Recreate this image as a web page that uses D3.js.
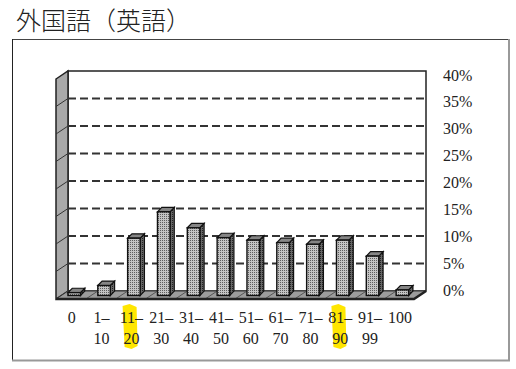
<!DOCTYPE html>
<html><head><meta charset="utf-8">
<script src="https://cdn.jsdelivr.net/npm/d3@7"></script>
<style>
html,body{margin:0;padding:0;background:#fff;}
svg{display:block;}
</style></head>
<body>
<script>
const title = "外国語（英語）";
const categories = ["0","1–10","11–20","21–30","31–40","41–50","51–60","61–70","71–80","81–90","91–99","100"];
const labelLine1 = ["0","1–","11–","21–","31–","41–","51–","61–","71–","81–","91–","100"];
const labelLine2 = ["","10","20","30","40","50","60","70","80","90","99",""];
const values = [0.1, 1.4, 10.0, 14.8, 11.9, 10.1, 9.65, 9.2, 8.9, 9.65, 6.75, 0.6];
const yTicks = [0,5,10,15,20,25,30,35,40];
const highlighted = ["11–20","81–90"];

const W = 516, H = 369;
const svg = d3.select("body").append("svg").attr("width", W).attr("height", H);
const defs = svg.append("defs");
const pat = defs.append("pattern").attr("id","dots").attr("width",2).attr("height",2).attr("patternUnits","userSpaceOnUse");
pat.append("rect").attr("width",2).attr("height",2).attr("fill","#c4c4c4");
pat.append("rect").attr("width",1).attr("height",1).attr("fill","#5e5e5e");
const pat2 = defs.append("pattern").attr("id","dots2").attr("width",2).attr("height",2).attr("patternUnits","userSpaceOnUse");
pat2.append("rect").attr("width",2).attr("height",2).attr("fill","#666");
pat2.append("rect").attr("width",1).attr("height",1).attr("fill","#222");

// title
svg.append("text").attr("x",16).attr("y",30)
  .attr("font-family","'Noto Sans CJK JP','Noto Sans CJK SC',sans-serif")
  .attr("font-size",25).attr("font-weight",300).attr("fill","#222").text(title);

// outer frame
svg.append("line").attr("x1",12).attr("y1",39.5).attr("x2",509).attr("y2",39.5).attr("stroke","#444");
svg.append("line").attr("x1",12.5).attr("y1",39).attr("x2",12.5).attr("y2",361).attr("stroke","#222");
svg.append("line").attr("x1",12).attr("y1",360.5).attr("x2",510).attr("y2",360.5).attr("stroke","#999").attr("stroke-width",2);
svg.append("line").attr("x1",509).attr("y1",39).attr("x2",509).attr("y2",361).attr("stroke","#999").attr("stroke-width",2);

// 3D geometry
const DX = 12, DY = 8;
const frontLeft = 56, frontRight = 414, frontY = 299;
const y = d3.scaleLinear().domain([0,40]).range([291,71]);
const x = d3.scaleBand().domain(categories).range([frontLeft, frontRight]).padding(0);
const yLab = d3.scaleLinear().domain([0,40]).range([290,75]);

const backL = frontLeft + DX, backR = frontRight + DX;

// back wall
svg.append("rect").attr("x",backL).attr("y",y(40)).attr("width",backR-backL).attr("height",y(0)-y(40))
  .attr("fill","#fff").attr("stroke","#222").attr("stroke-width",1.5);

// left side wall
svg.append("path")
  .attr("d",`M${frontLeft},${y(40)+DY} L${backL},${y(40)} L${backL},${y(0)} L${frontLeft},${frontY} Z`)
  .attr("fill","#a9a9a9").attr("stroke","#222").attr("stroke-width",1.5);
svg.selectAll(".sidetick").data(yTicks.slice(1,-1)).join("line")
  .attr("x1",frontLeft).attr("y1",d=>y(d)+DY).attr("x2",backL).attr("y2",d=>y(d))
  .attr("stroke","#333").attr("stroke-width",1);

// gridlines on back wall
svg.selectAll(".grid").data(yTicks.slice(1,-1)).join("line")
  .attr("x1",backL).attr("x2",backR).attr("y1",d=>y(d)).attr("y2",d=>y(d))
  .attr("stroke","#333").attr("stroke-width",2).attr("stroke-dasharray","8,4");

// floor
svg.append("path")
  .attr("d",`M${frontLeft},${frontY} L${backL},${y(0)} L${backR},${y(0)} L${frontRight},${frontY} Z`)
  .attr("fill","#9c9c9c").attr("stroke","#333").attr("stroke-width",1);
svg.selectAll(".floorsep").data(categories.slice(1)).join("line")
  .attr("x1",d=>x(d)).attr("y1",frontY).attr("x2",d=>x(d)+DX).attr("y2",y(0))
  .attr("stroke","#555").attr("stroke-width",1);
svg.append("path")
  .attr("d",`M${frontLeft},${frontY} L${frontRight},${frontY} L${backR},${y(0)}`)
  .attr("fill","none").attr("stroke","#222").attr("stroke-width",2.5);

// bars
const bw = 12.5, bdx = 4.3, bdy = 4.4, shift = 3.3, baseY = 295.5;
const bars = svg.selectAll(".bar").data(categories.map((c,i)=>({c, v:values[i]}))).join("g");
bars.each(function(d){
  const g = d3.select(this);
  const x0 = x(d.c) + x.bandwidth()/2 + shift - bw/2, x1 = x0 + bw;
  const top = y(d.v) + bdy/2;
  g.append("path").attr("d",`M${x1},${baseY} L${x1+bdx},${baseY-bdy} L${x1+bdx},${top-bdy} L${x1},${top} Z`)
    .attr("fill","url(#dots2)").attr("stroke","#111").attr("stroke-width",1.2);
  g.append("path").attr("d",`M${x0},${top} L${x0+bdx},${top-bdy} L${x1+bdx},${top-bdy} L${x1},${top} Z`)
    .attr("fill","#858585").attr("stroke","#111").attr("stroke-width",1.2);
  g.append("rect").attr("x",x0).attr("y",top).attr("width",bw).attr("height",Math.max(0.5, baseY-top))
    .attr("fill","url(#dots)").attr("stroke","#111").attr("stroke-width",1.4);
});

// y labels (right)
svg.selectAll(".ylab").data(yTicks).join("text")
  .attr("x",443).attr("y",d=>yLab(d)+5.5)
  .attr("font-family","'Liberation Serif','DejaVu Serif',serif").attr("font-size",16).attr("fill","#222")
  .text(d=>d+"%");

// highlights
highlighted.forEach(c=>{
  const cx = x(c) + x.bandwidth()/2;
  svg.append("path")
    .attr("d",`M${cx-8},${306} L${cx-1},${304} L${cx+6},${307} L${cx+7},${346} L${cx+1},${349} L${cx-6},${347} Z`)
    .attr("fill","#ffe600");
});

// x labels
const lab = svg.append("g").attr("font-family","'Liberation Serif','DejaVu Serif',serif").attr("font-size",16).attr("fill","#222").attr("text-anchor","middle");
categories.forEach((c,i)=>{
  const cx = x(c) + x.bandwidth()/2 + 0.8;
  lab.append("text").attr("x",cx).attr("y",322.5).text(labelLine1[i]);
  if (labelLine2[i]) lab.append("text").attr("x",cx).attr("y",344).text(labelLine2[i]);
});
</script>
</body></html>
